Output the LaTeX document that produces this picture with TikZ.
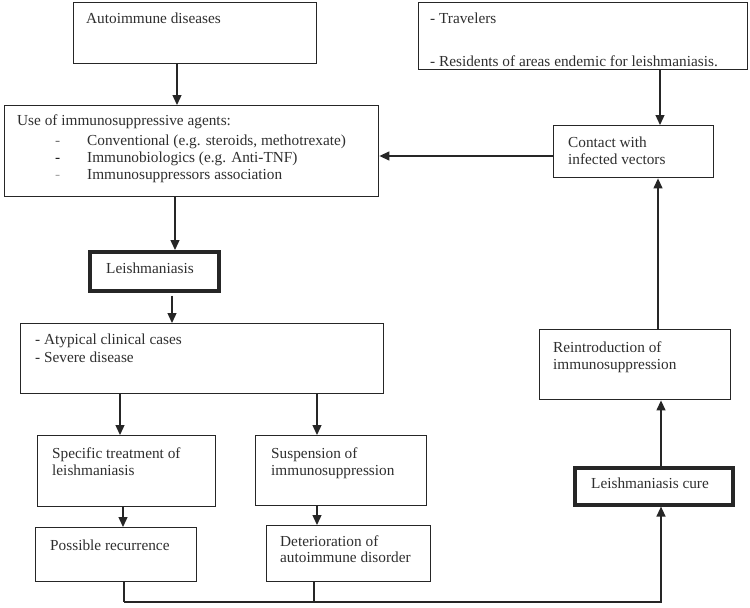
\documentclass[tikz,border=0pt]{standalone}
\usepackage{fontspec}
\setmainfont{Liberation Serif}
\usetikzlibrary{arrows.meta,calc}
\begin{document}
\begin{tikzpicture}[x=1pt,y=-1pt,
  box/.style={draw=black!85, line width=1.4pt, rectangle, inner sep=0pt, anchor=north west},
  thickbox/.style={box, line width=3.6pt},
  txt/.style={anchor=base west, inner sep=0pt, font=\fontsize{15.3}{17}\selectfont, text=black!82},
  arr/.style={draw=black!85, line width=1.3pt, line join=miter, -{Triangle[length=10pt,width=9pt]}},
  ln/.style={draw=black!85, line width=1.3pt}]
\useasboundingbox (0,0) rectangle (750,608);

% boxes
\node[box, minimum width=243pt, minimum height=61pt] (auto) at (73,2) {};
\node[box, minimum width=329pt, minimum height=67pt] (trav) at (418,2) {};
\node[box, minimum width=374pt, minimum height=91pt] (use) at (4,105) {};
\node[box, minimum width=160pt, minimum height=52pt] (contact) at (553,125) {};
\node[thickbox, minimum width=129pt, minimum height=39pt] (leish) at (88,250) {};
\node[box, minimum width=363pt, minimum height=70pt] (atyp) at (20,323) {};
\node[box, minimum width=191pt, minimum height=70pt] (reintro) at (539,329) {};
\node[box, minimum width=178pt, minimum height=71pt] (spec) at (37,435) {};
\node[box, minimum width=171pt, minimum height=70pt] (susp) at (255,435) {};
\node[thickbox, minimum width=158pt, minimum height=37pt] (cure) at (573,466) {};
\node[box, minimum width=161pt, minimum height=54pt] (poss) at (35,527) {};
\node[box, minimum width=164pt, minimum height=56pt] (det) at (266,525) {};

% texts
\node[txt] (tauto) at (86,23) {Autoimmune diseases};
\node[txt] (ttrav1) at (430,23) {- Travelers};
\node[txt] (ttrav2) at (430,66) {- Residents of areas endemic for leishmaniasis.};
\node[txt] (tuse0) at (17,125) {Use of immunosuppressive agents:};
\node[txt, text=black!55] (tdash1) at (55,145) {-};
\node[txt] (tuse1) at (87,145) {Conventional (e.g. steroids, methotrexate)};
\node[txt, text=black!90] (tdash2) at (55,162) {-};
\node[txt] (tuse2) at (87,162) {Immunobiologics (e.g. Anti-TNF)};
\node[txt, text=black!35] (tdash3) at (55,179) {-};
\node[txt] (tuse3) at (87,179) {Immunosuppressors association};
\node[txt] (tcon1) at (568,147) {Contact with};
\node[txt] (tcon2) at (568,164) {infected vectors};
\node[txt] (tleish) at (106,273) {Leishmaniasis};
\node[txt] (tatyp1) at (35,344) {- Atypical clinical cases};
\node[txt] (tatyp2) at (35,362) {- Severe disease};
\node[txt] (trein1) at (553,352) {Reintroduction of};
\node[txt] (trein2) at (553,369) {immunosuppression};
\node[txt] (tspec1) at (52,458) {Specific treatment of};
\node[txt] (tspec2) at (52,475) {leishmaniasis};
\node[txt] (tsusp1) at (271,458) {Suspension of};
\node[txt] (tsusp2) at (271,475) {immunosuppression};
\node[txt, anchor=base] (tcure) at (650,488) {Leishmaniasis cure};
\node[txt] (tposs) at (50,550) {Possible recurrence};
\node[txt] (tdet1) at (280,546) {Deterioration of};
\node[txt] (tdet2) at (280,562) {autoimmune disorder};

% helper coordinates
\coordinate (xa) at (177,0);
\coordinate (xt) at (660,0);
\coordinate (yc) at (0,156);
\coordinate (xu) at (175,0);
\coordinate (xl) at (172,0);
\coordinate (xs) at (120,0);
\coordinate (xm) at (317,0);
\coordinate (xr) at (123,0);
\coordinate (xp) at (124,0);
\coordinate (xd) at (314,0);
\coordinate (xc) at (661,0);
\coordinate (xi) at (658,0);
\coordinate (yb) at (0,602);

% connectors
\draw[arr] (auto.south -| xa) -- (use.north -| xa);
\draw[arr] (trav.south -| xt) -- (contact.north -| xt);
\draw[arr] (contact.west |- yc) -- (use.east |- yc);
\draw[arr] (use.south -| xu) -- (leish.north -| xu);
\draw[arr, shorten <=3pt] (leish.south -| xl) -- (atyp.north -| xl);
\draw[arr] (atyp.south -| xs) -- (spec.north -| xs);
\draw[arr] (atyp.south -| xm) -- (susp.north -| xm);
\draw[arr] (spec.south -| xr) -- (poss.north -| xr);
\draw[arr] (susp.south -| xm) -- (det.north -| xm);
\draw[ln] (poss.south -| xp) -- (xp |- yb);
\draw[ln] (det.south -| xd) -- (xd |- yb);
\draw[arr] (xp |- yb) -- (xc |- yb) -- (cure.south -| xc);
\draw[arr] (cure.north -| xc) -- (reintro.south -| xc);
\draw[arr] (reintro.north -| xi) -- (contact.south -| xi);
\end{tikzpicture}
\end{document}
